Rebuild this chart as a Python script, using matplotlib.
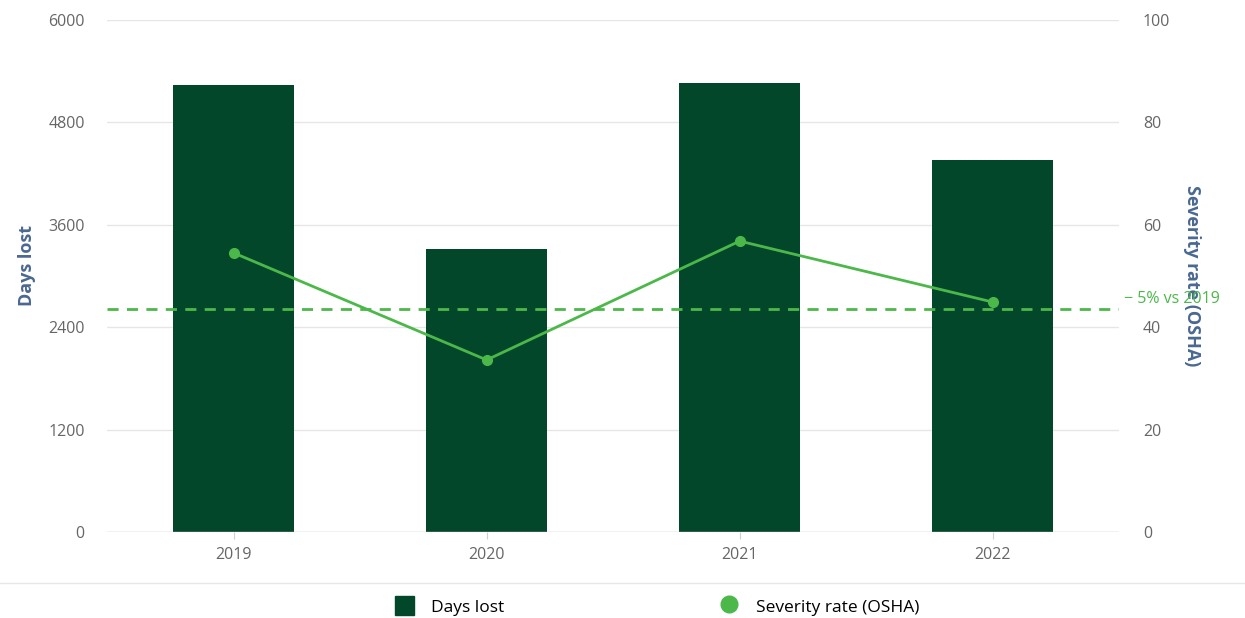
import matplotlib.pyplot as plt
from matplotlib.lines import Line2D
from matplotlib.patches import Patch

years = ["2019", "2020", "2021", "2022"]
days_lost = [5240, 3320, 5260, 4360]
severity_rate = [54.5, 33.6, 56.8, 44.9]
reference_rate = 43.6
reference_label = "\u2212 5% vs 2019"

bar_color = "#03472a"
line_color = "#4cb84a"
tick_color = "#666666"
title_color = "#4a6890"

plt.rcParams['font.family'] = ['Open Sans', 'DejaVu Sans']

fig = plt.figure(figsize=(12.45, 6.18), dpi=100)
ax = fig.add_axes([0.086, 0.139, 0.813, 0.829])
ax2 = ax.twinx()

x = range(len(years))
ax.bar(x, days_lost, width=0.48, color=bar_color, zorder=2)
ax.set_xlim(-0.5, 3.5)
ax.set_ylim(0, 6000)
ax.set_yticks([0, 1200, 2400, 3600, 4800, 6000])
ax.set_xticks(list(x))
ax.set_xticklabels(years)
ax.grid(axis='y', color="#e6e6e6", linewidth=1, zorder=0)
ax.set_axisbelow(True)
for s in ax.spines.values():
    s.set_visible(False)
for s in ax2.spines.values():
    s.set_visible(False)
ax.axhline(0, color="#d0d0d0", linewidth=1, zorder=3)
ax.tick_params(axis='y', length=0, pad=16, labelsize=11.5, labelcolor=tick_color)
ax.tick_params(axis='x', length=5, color="#d0d0d0", pad=6, labelsize=11.5, labelcolor=tick_color)
ax.set_ylabel("Days lost", color=title_color, fontsize=13, fontweight='bold')
ax.yaxis.set_label_coords(-0.07, 0.52)

# severity line on the right axis
ax2.plot(list(x), severity_rate, color=line_color, linewidth=2, marker='o', markersize=7, zorder=4)
ax2.axhline(reference_rate, color=line_color, linewidth=2, linestyle=(0, (4, 3)), zorder=3)
ax2.text(3.52, reference_rate + 0.3, reference_label, color=line_color, fontsize=11.5,
         va='bottom', ha='left')
ax2.set_ylim(0, 100)
ax2.set_yticks([0, 20, 40, 60, 80, 100])
ax2.tick_params(axis='y', length=0, pad=17, labelsize=11.5, labelcolor=tick_color)
ax2.set_ylabel("Severity rate (OSHA)", color=title_color, fontsize=13, fontweight='bold',
               rotation=-90, va='center')
ax2.yaxis.set_label_coords(1.072, 0.5)

# legend strip under the chart
fig.add_artist(Line2D([0, 1], [1 - 583 / 618] * 2, color="#e8e8e8", linewidth=1))
handles = [Patch(color=bar_color, label="Days lost"),
           Line2D([], [], marker='o', linestyle='None', markersize=12, color=line_color,
                  label="Severity rate (OSHA)")]
fig.legend(handles=handles, loc='center', bbox_to_anchor=(0.528, 1 - 606 / 618), ncol=2,
           frameon=False, fontsize=12.5, columnspacing=12.4, handlelength=1.1, handleheight=1.3,
           handletextpad=1.0)

fig.savefig("out.png", dpi=100)
